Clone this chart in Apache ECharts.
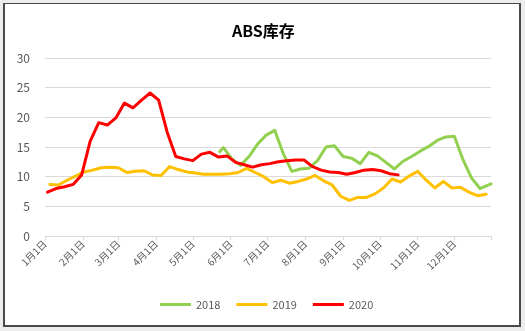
<!DOCTYPE html>
<html><head><meta charset="utf-8">
<script src="https://cdn.jsdelivr.net/npm/echarts@6/dist/echarts.min.js"></script>
<style>
html,body{margin:0;padding:0;background:#ececec;width:525px;height:331px;overflow:hidden;}
#frame{position:absolute;left:3px;top:3px;width:518px;height:324px;box-sizing:border-box;border:2px solid #4a4a4a;border-top-width:1px;background:#fff;}
#chart{position:absolute;left:0;top:0;width:525px;height:331px;}
</style></head><body>
<div id="frame"></div><div id="chart"></div>
<script>
const titleText = 'ABS库存';
const seriesNames = ['2018', '2019', '2020'];
const seriesColors = ['#92d050', '#ffc000', '#ff0000'];
const yMin = 0, yMax = 30, yStep = 5;

const dates2018 = ['5-23','5-26','6-2','6-9','6-16','6-23','6-30','7-7','7-14','7-21','7-28','8-4','8-11','8-18','8-25','9-1','9-8','9-15','9-22','9-29','10-6','10-13','10-20','10-27','11-3','11-10','11-17','11-24','12-1','12-8','12-15','12-22','12-29','12-31'];
const values2018 = [14.2,14.9,13.0,11.9,13.4,15.5,17.0,17.8,13.9,10.9,11.3,11.4,12.7,15.0,15.2,13.4,13.1,12.2,14.1,13.5,12.4,11.3,12.6,13.4,14.3,15.1,16.1,16.7,16.8,12.9,9.8,8.0,8.6,8.8];

const dates2019 = ['1-5','1-12','1-19','1-26','2-2','2-9','2-16','2-23','3-1','3-8','3-15','3-22','3-29','4-5','4-12','4-19','4-26','5-3','5-10','5-17','5-24','5-31','6-7','6-14','6-21','6-28','7-5','7-12','7-19','7-26','8-2','8-9','8-16','8-23','8-30','9-6','9-13','9-20','9-27','10-4','10-11','10-18','10-25','11-1','11-8','11-15','11-22','11-29','12-6','12-13','12-20','12-27'];
const values2019 = [8.7,8.6,9.4,10.1,10.8,11.1,11.5,11.6,11.5,10.7,10.9,11.0,10.3,10.2,11.7,11.2,10.8,10.6,10.4,10.4,10.4,10.5,10.7,11.4,10.7,10.0,9.0,9.4,8.9,9.2,9.6,10.2,9.3,8.6,6.7,6.0,6.5,6.5,7.1,8.1,9.6,9.1,10.1,10.9,9.4,8.1,9.2,8.1,8.2,7.4,6.8,7.05];

const dates2020 = ['1-3','1-10','1-17','1-24','1-31','2-7','2-14','2-21','2-28','3-6','3-13','3-20','3-27','4-3','4-10','4-17','4-24','5-1','5-8','5-15','5-22','5-29','6-5','6-12','6-19','6-26','7-3','7-10','7-17','7-24','7-31','8-7','8-14','8-21','8-28','9-4','9-11','9-18','9-25','10-2','10-9','10-16'];
const values2020 = [7.4,8.0,8.3,8.7,10.3,16.0,19.1,18.7,19.9,22.4,21.6,22.9,24.1,22.9,17.5,13.4,13.0,12.7,13.8,14.1,13.3,13.5,12.4,12.0,11.6,12.0,12.2,12.5,12.7,12.8,12.8,11.7,11.1,10.8,10.7,10.4,10.7,11.1,11.2,11.0,10.5,10.3];

// daily category axis for one (leap) year
const axisYear = 2020;
const cats = [];
for (let m = 0; m < 12; m++) {
  const n = new Date(axisYear, m + 1, 0).getDate();
  for (let d = 1; d <= n; d++) cats.push((m + 1) + '月' + d + '日');
}
function idx(s) { const p = s.split('-').map(Number); return cats.indexOf(p[0] + '月' + p[1] + '日'); }
function pairs(ds, vs) { return ds.map((d, i) => [idx(d), vs[i]]); }
const allData = [pairs(dates2018, values2018), pairs(dates2019, values2019), pairs(dates2020, values2020)];
const isMonthStart = (i) => cats[i].endsWith('月1日');

const font = "'Noto Sans CJK SC', sans-serif";
const chart = echarts.init(document.getElementById('chart'), null, {renderer: 'canvas'});
chart.setOption({
  animation: false,
  backgroundColor: 'transparent',
  textStyle: {fontFamily: font},
  title: {text: titleText, left: 227, top: 18, textStyle: {fontSize: 16, fontWeight: 'bold', color: '#000', fontFamily: font}},
  grid: {left: 45, right: 34, top: 58, bottom: 95, containLabel: false, outerBoundsMode: 'none'},
  legend: {
    data: seriesNames, left: 160, top: 299, itemWidth: 31, itemHeight: 3, icon: 'rect', itemGap: 16, padding: 0,
    textStyle: {fontSize: 11, color: '#595959', fontFamily: font}
  },
  xAxis: {
    type: 'category', data: cats, boundaryGap: false,
    axisLine: {lineStyle: {color: '#d9d9d9', width: 1}},
    axisTick: {show: true, length: 4, interval: (i) => isMonthStart(i) || i === cats.length - 1, lineStyle: {color: '#d9d9d9'}},
    axisLabel: {interval: (i) => isMonthStart(i), rotate: 45, fontSize: 10, color: '#595959', margin: 6, fontFamily: font},
    splitLine: {show: false}
  },
  yAxis: {
    type: 'value', min: yMin, max: yMax, interval: yStep,
    axisLine: {show: false}, axisTick: {show: false},
    axisLabel: {fontSize: 12, color: '#595959', margin: 15, fontFamily: font},
    splitLine: {lineStyle: {color: '#d9d9d9', width: 1}}
  },
  series: seriesNames.map((name, s) => ({
    name: name, type: 'line', data: allData[s], showSymbol: false, symbol: 'none',
    lineStyle: {width: 3, color: seriesColors[s], cap: 'round', join: 'round'},
    itemStyle: {color: seriesColors[s]}, z: 2 + s
  }))
});
</script></body></html>
